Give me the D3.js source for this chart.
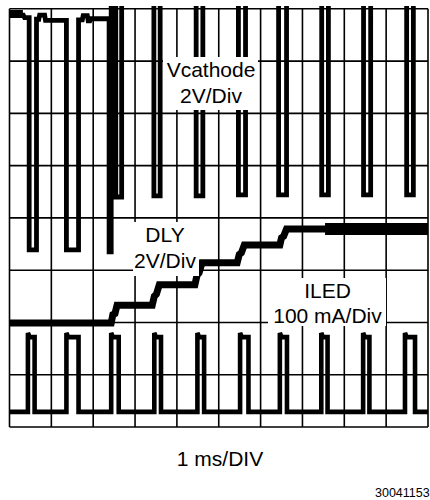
<!DOCTYPE html>
<html><head><meta charset="utf-8">
<script src="https://cdn.jsdelivr.net/npm/d3@7"></script>
<style>
html,body{margin:0;padding:0;background:#fff;}
svg{display:block;}
text{font-family:"Liberation Sans",Arial,Helvetica,sans-serif;fill:#000;}
</style></head><body>
<svg id="c" width="430" height="500"></svg>
<script>
// ---- data (time in ms, level in screen divisions from bottom) ----
const timeDivs = [0,1,2,3,4,5,6,7,8,9,10];
const levelDivs = [0,1,2,3,4,5,6,7,8];

const vcathode = [
  [0,7.88],[0.33,7.88],[0.36,7.83],[0.47,7.83],[0.47,3.39],[0.645,3.39],[0.645,7.80],
  [0.70,7.80],[0.72,7.88],[0.84,7.88],[0.86,7.78],[1.36,7.78],[1.36,3.39],[1.65,3.39],[1.65,7.79],
  [1.74,7.79],[1.76,7.87],[1.86,7.87],[1.88,7.77],[1.92,7.77],[1.94,7.81],[2.38,7.81],
  [2.38,3.35],[2.43,3.35],[2.43,8.3],[2.54,8.3],[2.54,4.40],[2.68,4.40],[2.68,8.3],
  [3.45,8.3],[3.45,4.42],[3.60,4.42],[3.60,8.3],
  [4.46,8.3],[4.46,4.42],[4.62,4.42],[4.62,8.3],
  [5.47,8.3],[5.47,4.44],[5.64,4.44],[5.64,8.3],
  [6.43,8.3],[6.43,4.44],[6.62,4.44],[6.62,8.3],
  [7.46,8.3],[7.46,4.44],[7.62,4.44],[7.62,8.3],
  [8.46,8.3],[8.46,4.44],[8.63,4.44],[8.63,8.3],
  [9.49,8.3],[9.49,4.44],[9.65,4.44],[9.65,8.3],[10,8.3]
];
const vcathStart = [[0,7.9],[0.32,7.9]];

const dly = [
  [0,1.99],[2.43,1.99],[2.47,2.15],[2.52,2.17],[2.57,2.33],
  [3.41,2.33],[3.46,2.50],[3.51,2.54],[3.58,2.72],
  [4.43,2.72],[4.48,2.90],[4.53,2.95],[4.60,3.14],
  [5.44,3.14],[5.49,3.30],[5.54,3.33],[5.61,3.48],
  [6.46,3.48],[6.50,3.62],[6.55,3.65],[6.62,3.79],
  [10,3.79]
];
const dlyNoisy = [[7.54,3.79],[10,3.79]];

const iledBase = 0.29, iledTop = 1.72, iledPeak = 1.80;
const iledPulses = [
  [0.44,0.60],[1.36,1.65],[2.43,2.61],[3.46,3.62],[4.49,4.65],
  [5.51,5.71],[6.46,6.63],[7.45,7.60],[8.45,8.60],[9.45,9.69]
];

const labelVcath = ["Vcathode","2V/Div"];
const labelDly = ["DLY","2V/Div"];
const labelIled = ["ILED","100 mA/Div"];
const timebaseLabel = "1 ms/DIV";
const figureId = "30041153";

// ---- drawing ----
const svg = d3.select("#c");
const x = d3.scaleLinear().domain([0,10]).range([9.5,428]);
const y = d3.scaleLinear().domain([0,8]).range([427,8.8]);

svg.append("defs").append("clipPath").attr("id","scr")
  .append("rect").attr("x",x(0)-1).attr("y",6).attr("width",x(10)-x(0)+1).attr("height",y(0)-6);

const grid = svg.append("g").attr("stroke","#000").attr("stroke-width",1.6);
grid.selectAll("line.v").data(timeDivs).join("line").attr("class","v")
  .attr("x1",d=>x(d)).attr("x2",d=>x(d)).attr("y1",y(8)).attr("y2",y(0));
grid.selectAll("line.h").data(levelDivs).join("line").attr("class","h")
  .attr("y1",d=>y(d)).attr("y2",d=>y(d)).attr("x1",x(0)).attr("x2",x(10));

const line = d3.line().x(d=>x(d[0])).y(d=>y(d[1]));
const traces = svg.append("g").attr("clip-path","url(#scr)")
  .attr("fill","none").attr("stroke","#000").attr("stroke-linejoin","miter").attr("stroke-miterlimit",2);

traces.append("path").attr("d",line(vcathode)).attr("stroke-width",4.8);
traces.append("path").attr("d",line(vcathStart)).attr("stroke-width",8);
traces.append("path").attr("d",line(dly)).attr("stroke-width",7);
traces.append("path").attr("d",line(dlyNoisy)).attr("stroke-width",12);

const iled = [[0,iledBase]];
iledPulses.forEach(([a,b])=>{
  iled.push([a,iledBase],[a,iledPeak],[a+0.04,iledTop],[b,iledTop],[b,iledBase]);
});
iled.push([10,iledBase]);
traces.append("path").attr("d",line(iled)).attr("stroke-width",4.6);

// label boxes
function label(lines, cx, y1, y2, box){
  svg.append("rect").attr("x",box[0]).attr("y",box[1]).attr("width",box[2]-box[0]).attr("height",box[3]-box[1]).attr("fill","#fff");
  svg.append("text").attr("x",cx).attr("y",y1).attr("text-anchor","middle").attr("font-size",21).text(lines[0]);
  svg.append("text").attr("x",cx).attr("y",y2).attr("text-anchor","middle").attr("font-size",21).text(lines[1]);
}
label(labelVcath, 211, 77, 103, [163,57,258,110]);
label(labelDly, 165, 242, 268, [133,222,199,276]);
label(labelIled, 327.5, 298, 323, [268,278,386,326]);

svg.append("text").attr("x",220).attr("y",466).attr("text-anchor","middle").attr("font-size",21).text(timebaseLabel);
svg.append("text").attr("x",375).attr("y",497).attr("font-size",12.5).text(figureId);
</script>
</body></html>
